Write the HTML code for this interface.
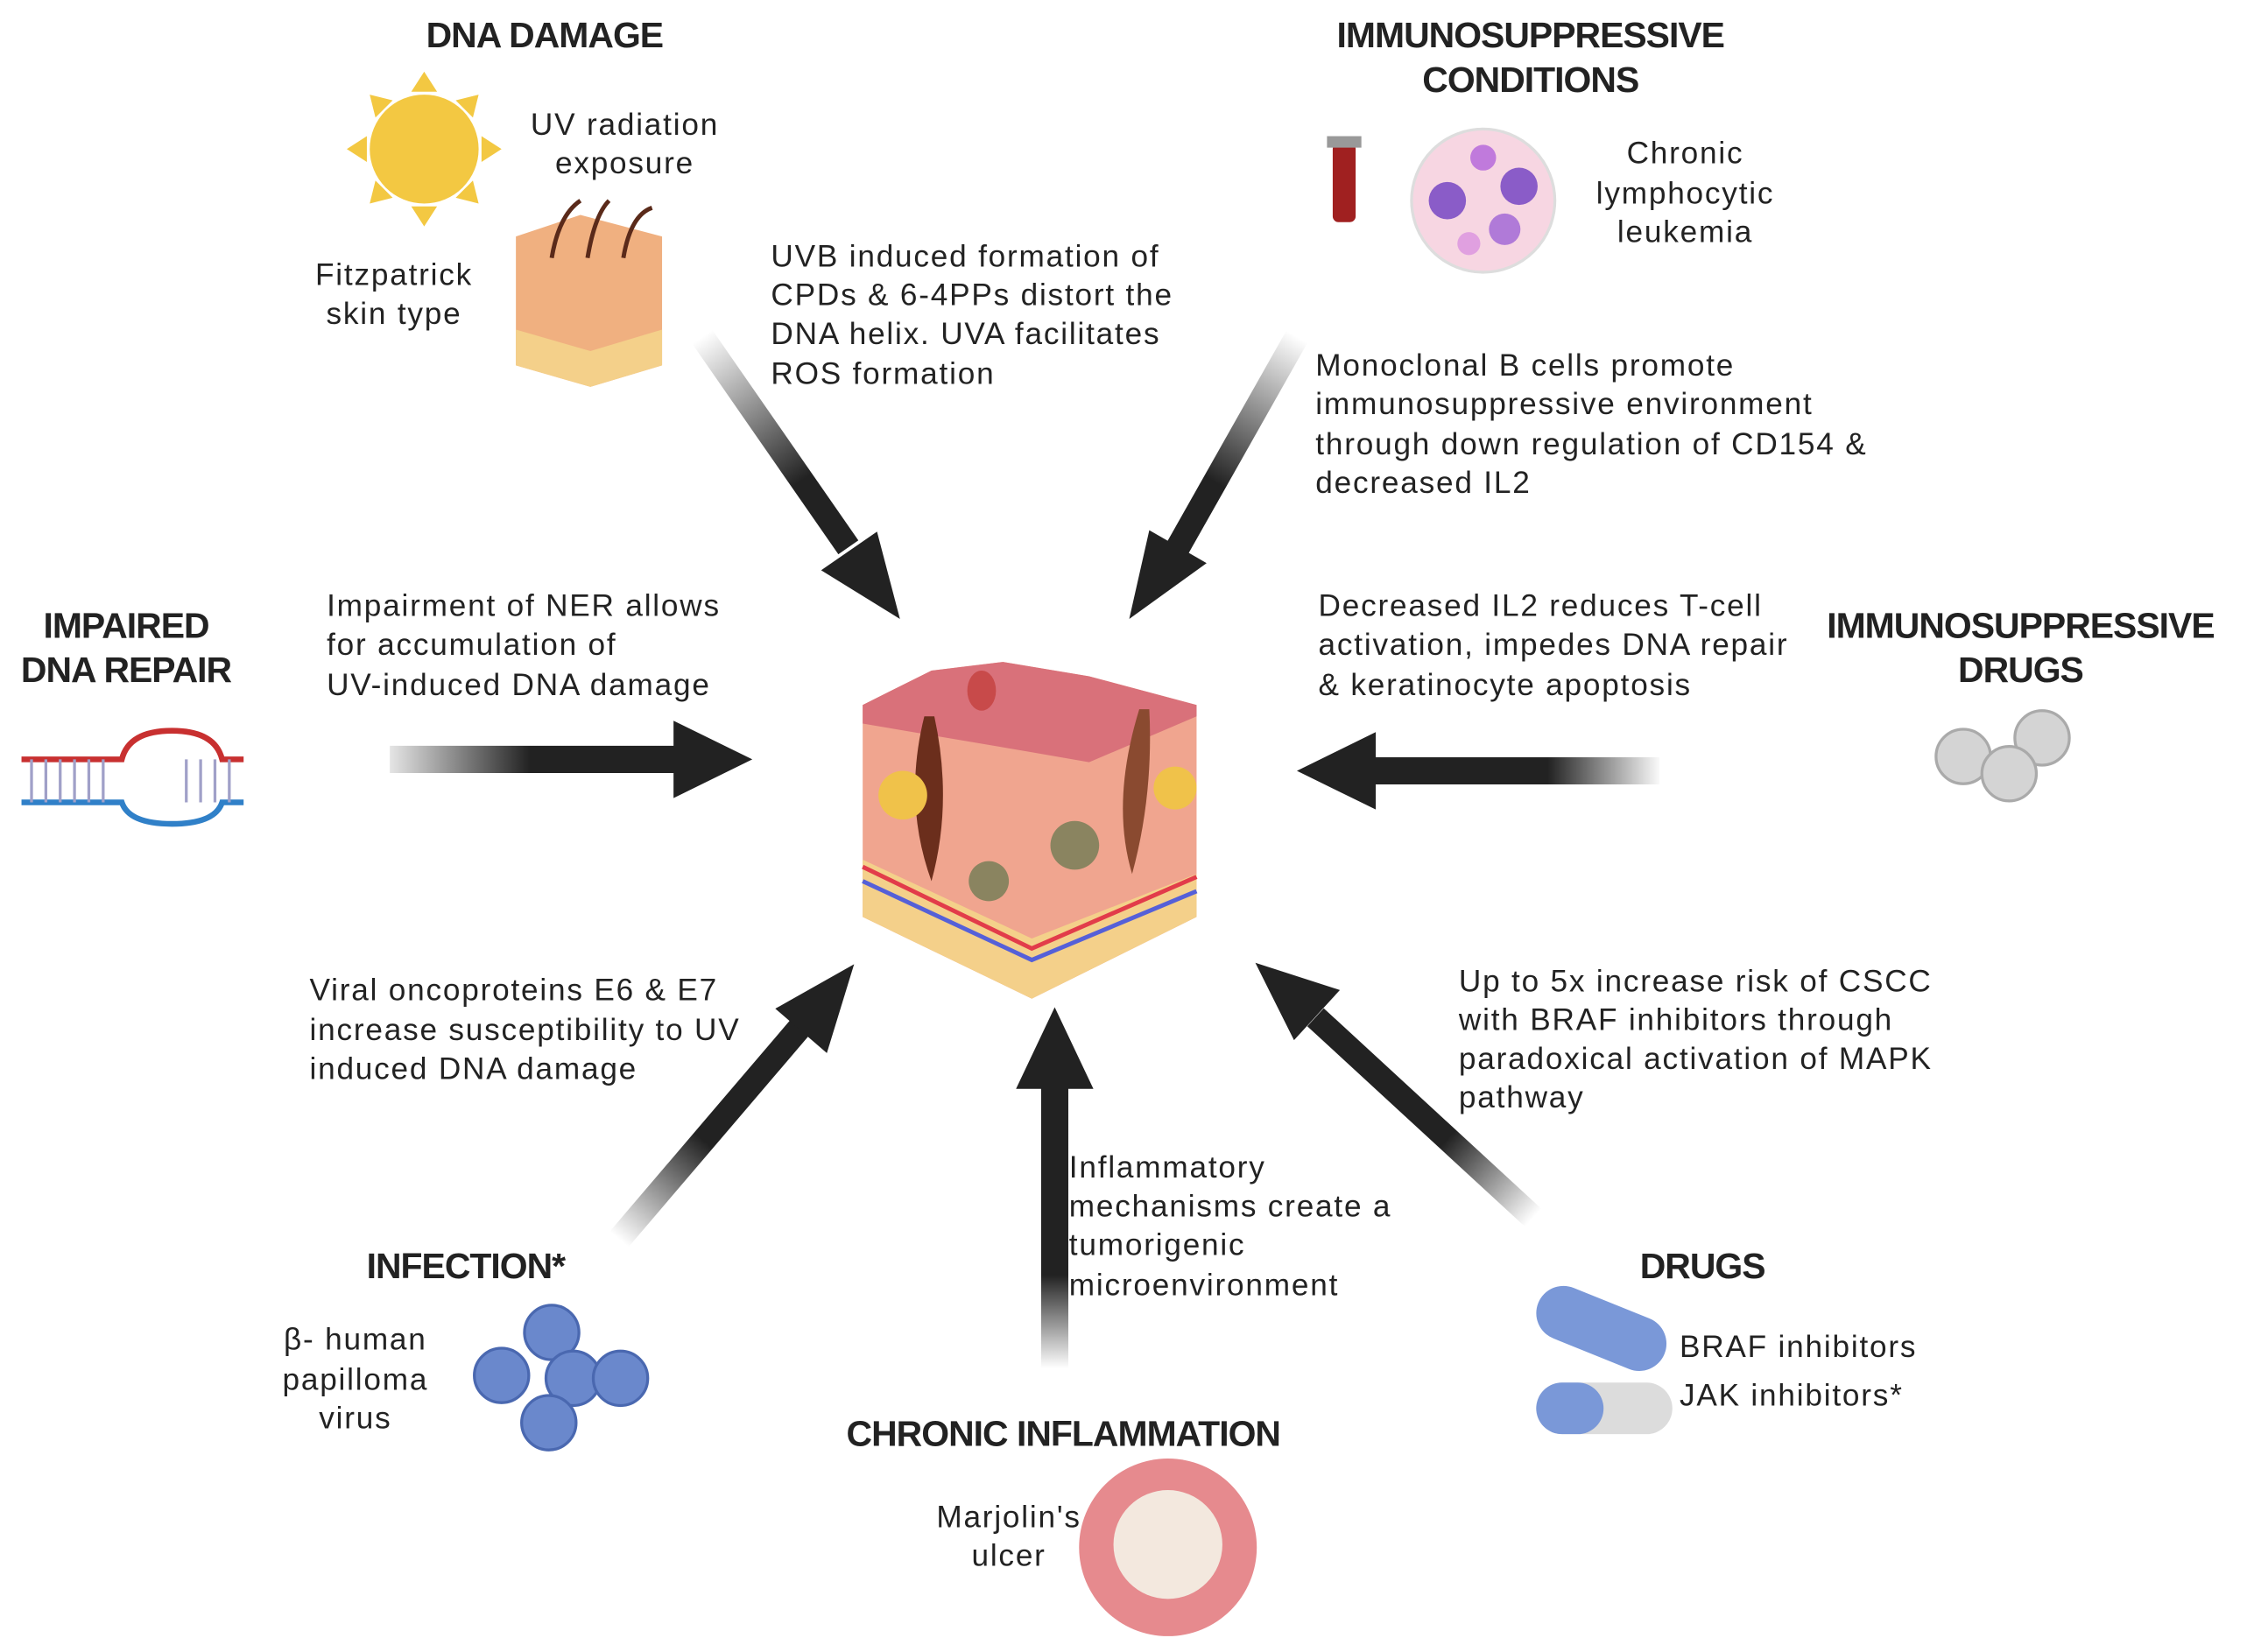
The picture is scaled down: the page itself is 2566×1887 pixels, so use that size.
<!DOCTYPE html>
<html><head><meta charset="utf-8"><style>
html,body{margin:0;padding:0;background:#fff;}
svg{display:block;}
text{font-family:"Liberation Sans",sans-serif;fill:#222;}
.h{font-weight:bold;font-size:25px;letter-spacing:-0.6px;}
.t{font-size:21.5px;letter-spacing:1.1px;}
</style></head><body>
<svg width="2566" height="1887" viewBox="0 0 1568 1153" xmlns="http://www.w3.org/2000/svg">
<defs>
<linearGradient id="g1" gradientUnits="userSpaceOnUse" x1="490" y1="235" x2="560" y2="335"><stop offset="0" stop-color="#222" stop-opacity="0"/><stop offset="1" stop-color="#222"/></linearGradient>
<linearGradient id="g2" gradientUnits="userSpaceOnUse" x1="905" y1="235" x2="845" y2="335"><stop offset="0" stop-color="#222" stop-opacity="0"/><stop offset="1" stop-color="#222"/></linearGradient>
<linearGradient id="g3" gradientUnits="userSpaceOnUse" x1="270" y1="0" x2="370" y2="0"><stop offset="0" stop-color="#222" stop-opacity="0.1"/><stop offset="1" stop-color="#222"/></linearGradient>
<linearGradient id="g4" gradientUnits="userSpaceOnUse" x1="1160" y1="0" x2="1080" y2="0"><stop offset="0" stop-color="#222" stop-opacity="0"/><stop offset="1" stop-color="#222"/></linearGradient>
<linearGradient id="g5" gradientUnits="userSpaceOnUse" x1="432" y1="865" x2="490" y2="795"><stop offset="0" stop-color="#222" stop-opacity="0"/><stop offset="1" stop-color="#222"/></linearGradient>
<linearGradient id="g6" gradientUnits="userSpaceOnUse" x1="0" y1="955" x2="0" y2="890"><stop offset="0" stop-color="#222" stop-opacity="0"/><stop offset="1" stop-color="#222"/></linearGradient>
<linearGradient id="g7" gradientUnits="userSpaceOnUse" x1="1070" y1="850" x2="1010" y2="795"><stop offset="0" stop-color="#222" stop-opacity="0"/><stop offset="1" stop-color="#222"/></linearGradient>
</defs>

<line x1="490" y1="235" x2="592" y2="382" stroke="url(#g1)" stroke-width="17"/>
<path d="M628,432 L573,398 L612,371 Z" fill="#222"/>
<line x1="905" y1="235" x2="822" y2="382" stroke="url(#g2)" stroke-width="17"/>
<path d="M788,432 L802,370 L842,393 Z" fill="#222"/>
<line x1="272" y1="530" x2="475" y2="530" stroke="url(#g3)" stroke-width="19"/>
<path d="M525,530 L470,503 L470,557 Z" fill="#222"/>
<line x1="1158" y1="538" x2="955" y2="538" stroke="url(#g4)" stroke-width="19"/>
<path d="M905,538 L960,511 L960,565 Z" fill="#222"/>
<line x1="432" y1="865" x2="560" y2="715" stroke="url(#g5)" stroke-width="17"/>
<path d="M596,673 L577,735 L541,704 Z" fill="#222"/>
<line x1="736" y1="955" x2="736" y2="755" stroke="url(#g6)" stroke-width="19"/>
<path d="M736,703 L709,760 L763,760 Z" fill="#222"/>
<line x1="1070" y1="850" x2="918" y2="710" stroke="url(#g7)" stroke-width="17"/>
<path d="M876,672 L935,691 L903,726 Z" fill="#222"/>

<path d="M602,492 L650,468 L700,462 L760,472 L835,492 L835,640 L720,697 L602,640 Z" fill="#f0a58f"/>
<path d="M602,492 L650,468 L700,462 L760,472 L835,492 L835,500 L760,532 L720,525 L602,505 Z" fill="#d9717a"/>
<path d="M602,600 L720,655 L835,610 L835,640 L720,697 L602,640 Z" fill="#f4d08a"/>
<path d="M602,605 L720,662 L835,612" fill="none" stroke="#e23c4a" stroke-width="3"/>
<path d="M602,615 L720,670 L835,622" fill="none" stroke="#5560d8" stroke-width="3"/>
<path d="M645,500 Q630,560 650,615 Q665,560 652,500 Z" fill="#6b2e1c"/>
<path d="M795,495 Q775,560 790,610 Q805,555 802,495 Z" fill="#8a4a30"/>
<circle cx="630" cy="555" r="17" fill="#f0c24a"/>
<circle cx="820" cy="550" r="15" fill="#f0c24a"/>
<circle cx="690" cy="615" r="14" fill="#8a8460"/>
<circle cx="750" cy="590" r="17" fill="#8a8460"/>
<ellipse cx="685" cy="482" rx="10" ry="14" fill="#c84a4a"/>

<text class="h" x="380" y="33" text-anchor="middle">DNA DAMAGE</text>
<text class="h" x="1068" y="33" text-anchor="middle">IMMUNOSUPPRESSIVE</text>
<text class="h" x="1068" y="64" text-anchor="middle">CONDITIONS</text>
<text class="h" x="88" y="445" text-anchor="middle">IMPAIRED</text>
<text class="h" x="88" y="476" text-anchor="middle">DNA REPAIR</text>
<text class="h" x="1410" y="445" text-anchor="middle">IMMUNOSUPPRESSIVE</text>
<text class="h" x="1410" y="476" text-anchor="middle">DRUGS</text>
<text class="h" x="325" y="892" text-anchor="middle">INFECTION*</text>
<text class="h" x="1188" y="892" text-anchor="middle">DRUGS</text>
<text class="h" x="742" y="1009" text-anchor="middle">CHRONIC INFLAMMATION</text>

<g fill="#f3c842"><circle cx="296" cy="104" r="38"/>
<path d="M296,50 L287,64 L305,64Z M296,158 L287,144 L305,144Z M242,104 L256,95 L256,113Z M350,104 L336,95 L336,113Z M258,66 L274,70 L262,82Z M334,66 L318,70 L330,82Z M258,142 L262,126 L274,138Z M334,142 L330,126 L318,138Z"/></g>
<path d="M360,165 L405,150 L462,165 L462,255 L412,270 L360,255 Z" fill="#f0b080"/>
<path d="M360,230 L412,245 L462,230 L462,255 L412,270 L360,255 Z" fill="#f4d08a"/>
<path d="M385,180 Q390,150 405,140 M410,180 Q415,150 425,140 M435,180 Q440,150 455,145" stroke="#5a2a1a" stroke-width="3" fill="none"/>
<rect x="930" y="100" width="16" height="55" fill="#a02020" rx="4"/>
<rect x="926" y="95" width="24" height="8" fill="#999"/>
<circle cx="1035" cy="140" r="50" fill="#f7d6e2" stroke="#ddd" stroke-width="2"/>
<circle cx="1010" cy="140" r="13" fill="#8a5cc8"/><circle cx="1060" cy="130" r="13" fill="#8a5cc8"/><circle cx="1050" cy="160" r="11" fill="#b07ad8"/><circle cx="1035" cy="110" r="9" fill="#c07adc"/><circle cx="1025" cy="170" r="8" fill="#e0a0e0"/>
<g stroke-width="4" fill="none"><path d="M15,530 L85,530 Q90,510 120,510 Q150,510 155,530 L170,530" stroke="#c83030"/>
<path d="M15,560 L85,560 Q90,575 120,575 Q150,575 155,560 L170,560" stroke="#3080c8"/></g>
<g stroke-width="2"><path d="M22,530 V560 M32,530 V560 M42,530 V560 M52,530 V560 M62,530 V560 M72,530 V560 M130,530 V560 M140,530 V560 M150,530 V560 M160,530 V560" stroke="#a0a0c8"/></g>
<g fill="#d4d4d4" stroke="#aaa" stroke-width="2"><circle cx="1370" cy="528" r="19"/><circle cx="1425" cy="515" r="19"/><circle cx="1402" cy="540" r="19"/></g>
<g fill="#6a88cc" stroke="#4a68b0" stroke-width="2"><circle cx="385" cy="930" r="19"/><circle cx="350" cy="960" r="19"/><circle cx="400" cy="962" r="19"/><circle cx="433" cy="962" r="19"/><circle cx="383" cy="993" r="19"/></g>
<g><rect x="1070" y="908" width="95" height="38" rx="19" fill="#7a98d8" transform="rotate(22 1117 927)"/>
<rect x="1072" y="965" width="95" height="36" rx="18" fill="#dcdcdc"/><rect x="1072" y="965" width="47" height="36" rx="18" fill="#7a98d8"/></g>
<circle cx="815" cy="1080" r="62" fill="#e68a8e"/><circle cx="815" cy="1078" r="38" fill="#f3e8de"/>

<g>
<text class="t" x="436" y="94" text-anchor="middle">UV radiation</text>
<text class="t" x="436" y="121" text-anchor="middle">exposure</text>
<text class="t" x="275" y="199" text-anchor="middle">Fitzpatrick</text>
<text class="t" x="275" y="226" text-anchor="middle">skin type</text>
<text class="t" x="538" y="186">UVB induced formation of</text>
<text class="t" x="538" y="213">CPDs &amp; 6-4PPs distort the</text>
<text class="t" x="538" y="240">DNA helix. UVA facilitates</text>
<text class="t" x="538" y="268">ROS formation</text>
<text class="t" x="1176" y="114" text-anchor="middle">Chronic</text>
<text class="t" x="1176" y="142" text-anchor="middle">lymphocytic</text>
<text class="t" x="1176" y="169" text-anchor="middle">leukemia</text>
<text class="t" x="918" y="262">Monoclonal B cells promote</text>
<text class="t" x="918" y="289">immunosuppressive environment</text>
<text class="t" x="918" y="317">through down regulation of CD154 &amp;</text>
<text class="t" x="918" y="344">decreased IL2</text>
<text class="t" x="228" y="430">Impairment of NER allows</text>
<text class="t" x="228" y="457">for accumulation of</text>
<text class="t" x="228" y="485">UV-induced DNA damage</text>
<text class="t" x="920" y="430">Decreased IL2 reduces T-cell</text>
<text class="t" x="920" y="457">activation, impedes DNA repair</text>
<text class="t" x="920" y="485">&amp; keratinocyte apoptosis</text>
<text class="t" x="216" y="698">Viral oncoproteins E6 &amp; E7</text>
<text class="t" x="216" y="726">increase susceptibility to UV</text>
<text class="t" x="216" y="753">induced DNA damage</text>
<text class="t" x="1018" y="692">Up to 5x increase risk of CSCC</text>
<text class="t" x="1018" y="719">with BRAF inhibitors  through</text>
<text class="t" x="1018" y="746">paradoxical activation of MAPK</text>
<text class="t" x="1018" y="773">pathway</text>
<text class="t" x="746" y="822">Inflammatory</text>
<text class="t" x="746" y="849">mechanisms create a</text>
<text class="t" x="746" y="876">tumorigenic</text>
<text class="t" x="746" y="904">microenvironment</text>
<text class="t" x="248" y="942" text-anchor="middle">β- human</text>
<text class="t" x="248" y="970" text-anchor="middle">papilloma</text>
<text class="t" x="248" y="997" text-anchor="middle">virus</text>
<text class="t" x="1172" y="947">BRAF inhibitors</text>
<text class="t" x="1172" y="981">JAK inhibitors*</text>
<text class="t" x="704" y="1066" text-anchor="middle">Marjolin's</text>
<text class="t" x="704" y="1093" text-anchor="middle">ulcer</text>
</g>
</svg>
</body></html>
